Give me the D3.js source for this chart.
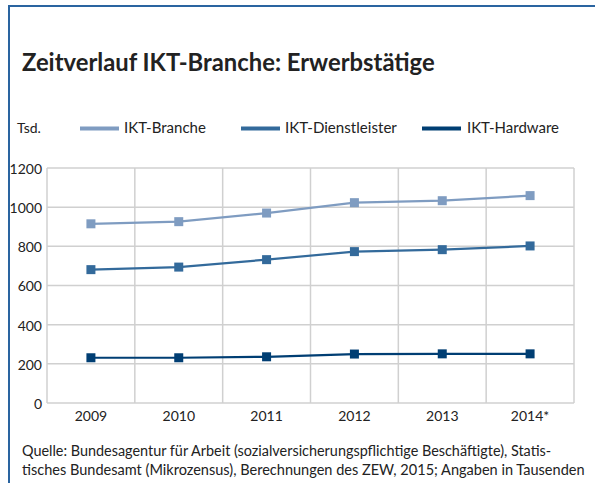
<!DOCTYPE html>
<html><head><meta charset="utf-8">
<script src="https://cdn.jsdelivr.net/npm/d3@7"></script>
<style>body{margin:0;background:#fff}svg{display:block}text{font-family:Lato,"Open Sans",sans-serif;fill:#222}</style>
</head><body>
<svg id="c" width="595" height="483"></svg>
<script>
const years = ["2009","2010","2011","2012","2013","2014*"];
const seriesNames = ["IKT-Branche","IKT-Dienstleister","IKT-Hardware"];
const branche = [915, 926, 970, 1023, 1033, 1059];
const dienstleister = [681, 694, 732, 773, 783, 802];
const hardware = [231, 231, 236, 250, 251, 251];
const yTicks = [0,200,400,600,800,1000,1200];
const colors = ["#7f9cc1","#336a9b","#003e73"];
const series = [branche, dienstleister, hardware];

const svg = d3.select("#c");
// frame
svg.append("line").attr("x1",9).attr("x2",9).attr("y1",5).attr("y2",483).attr("stroke","#2a64a0").attr("stroke-width",2);
svg.append("line").attr("x1",8).attr("x2",595).attr("y1",6).attr("y2",6).attr("stroke","#2a64a0").attr("stroke-width",2);

function fit(sel, w){ const n=sel.node(); const l=n.getComputedTextLength(); const fs=parseFloat(sel.attr("font-size")); sel.attr("font-size", fs*w/l); }

const title = svg.append("text").attr("x",22).attr("y",71).attr("font-size",25).attr("font-weight","bold").text("Zeitverlauf IKT-Branche: Erwerbstätige");
fit(title, 413);

// legend
svg.append("text").attr("x",17).attr("y",133).attr("font-size",14).text("Tsd.");
const legX = [[80,124,82],[241,285,112],[422,467,92]];
seriesNames.forEach((n,i)=>{
  svg.append("line").attr("x1",legX[i][0]).attr("x2",legX[i][0]+39).attr("y1",128.5).attr("y2",128.5).attr("stroke",colors[i]).attr("stroke-width",4);
  const t = svg.append("text").attr("x",legX[i][1]).attr("y",133).attr("font-size",14).text(n);
  fit(t, legX[i][2]);
});

const x = d3.scaleBand().domain(years).range([47,574]);
const y = d3.scaleLinear().domain([0,1200]).range([403,168]);

const g = svg.append("g");
// grid
g.selectAll(".hg").data(yTicks).join("line").attr("x1",47).attr("x2",574).attr("y1",d=>y(d)).attr("y2",d=>y(d)).attr("stroke","#d0d0d0").attr("stroke-width",1.5);
const vx = years.map(d=>x(d)).concat([574]);
g.selectAll(".vg").data(vx).join("line").attr("x1",d=>d).attr("x2",d=>d).attr("y1",168).attr("y2",403).attr("stroke","#d0d0d0").attr("stroke-width",1.5);

// axes
const ya = svg.append("g").attr("transform","translate(47,1)").call(d3.axisLeft(y).tickValues(yTicks).tickSize(0).tickPadding(5).tickFormat(d3.format("d")));
ya.select(".domain").remove();
ya.selectAll("text").attr("font-size",14).style("font-family","Lato,sans-serif").attr("fill","#222");
const xa = svg.append("g").attr("transform","translate(0,403)").call(d3.axisBottom(x).tickSize(0).tickPadding(8));
xa.select(".domain").remove();
xa.selectAll("text").attr("font-size",14).style("font-family","Lato,sans-serif").attr("fill","#222");

const cx = d => x(d) + x.bandwidth()/2;
const line = d3.line().x((d,i)=>cx(years[i])).y(d=>y(d));
series.forEach((s,i)=>{
  svg.append("path").attr("d",line(s)).attr("fill","none").attr("stroke",colors[i]).attr("stroke-width",2.2);
  svg.selectAll(".m"+i).data(s).join("rect").attr("x",(d,j)=>cx(years[j])-4.5).attr("y",d=>y(d)-4.5).attr("width",9).attr("height",9).attr("fill",colors[i]);
});

const f1 = svg.append("text").attr("x",22).attr("y",456).attr("font-size",14).text("Quelle: Bundesagentur für Arbeit (sozialversicherungspflichtige Beschäftigte), Statis-");
fit(f1, 530);
const f2 = svg.append("text").attr("x",22).attr("y",475).attr("font-size",14).text("tisches Bundesamt (Mikrozensus), Berechnungen des ZEW, 2015; Angaben in Tausenden");
fit(f2, 563);
</script>
</body></html>
